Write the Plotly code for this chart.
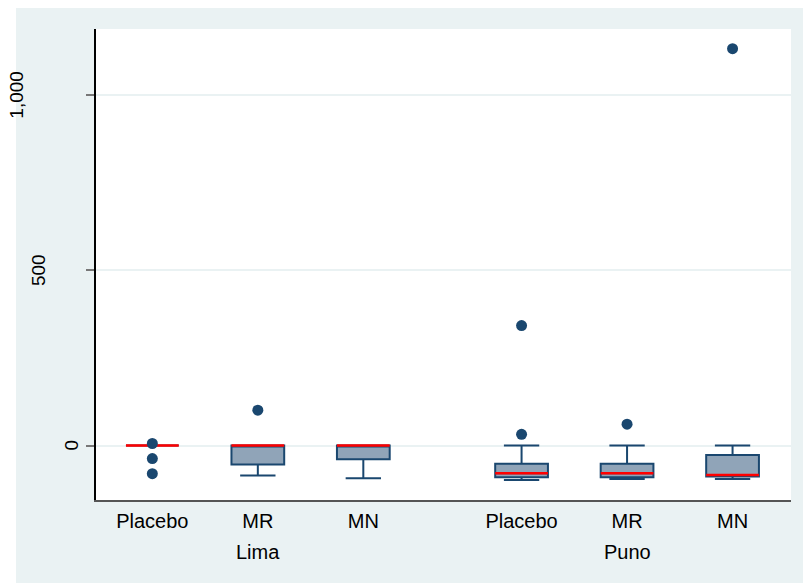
import plotly.graph_objects as go

# Treatment arms within each study site
sites = ["Lima", "Lima", "Lima", "Puno", "Puno", "Puno"]
arms = ["Placebo", "MR", "MN", "Placebo", "MR", "MN"]

# Box summaries per arm
lower_fence = [0, -85, -93, -98, -95, -95]
q1 = [0, -54, -39, -90, -90, -88]
median = [0, 0, 0, -79, -79, -84]
q3 = [0, 0, 0, -52, -52, -27]
upper_fence = [0, 0, 0, 0, 0, 0]

# Outside values per arm
outliers = [
    [6, -37, -80],
    [101],
    [],
    [32, 342],
    [61],
    [1131],
]

# Y-axis tick labels
y_ticks = [0, 500, 1000]
y_tick_text = ["0", "500", "1,000"]

NAVY = "#1a476f"
FILL = "#90a4b8"
FONT = "Liberation Sans, Arial, sans-serif"

# x positions: arms one unit apart, extra half unit between sites
site_order = list(dict.fromkeys(sites))
pos = [i + 0.5 * site_order.index(s) + 1 for i, s in enumerate(sites)]

fig = go.Figure()

fig.add_trace(go.Box(
    x=pos, q1=q1, median=median, q3=q3,
    lowerfence=lower_fence, upperfence=upper_fence,
    width=0.5, whiskerwidth=0.67,
    fillcolor=FILL, line=dict(color=NAVY, width=2),
    boxpoints=False, hoverinfo="skip", showlegend=False,
))

# red median bars
mx, my = [], []
for p, m in zip(pos, median):
    mx += [p - 0.25, p + 0.25, None]
    my += [m, m, None]
fig.add_trace(go.Scatter(x=mx, y=my, mode="lines",
                         line=dict(color="#ff0000", width=2.5),
                         hoverinfo="skip", showlegend=False))

# outside values
ox, oy = [], []
for p, vals in zip(pos, outliers):
    ox += [p] * len(vals)
    oy += vals
fig.add_trace(go.Scatter(x=ox, y=oy, mode="markers",
                         marker=dict(color=NAVY, size=11),
                         hoverinfo="skip", showlegend=False))

W, H = 803, 583
ml, mr, mt, mb = 96, 12, 29, 83
pw, ph = W - ml - mr, H - mt - mb

def px_x(px):
    return (px - ml) / pw

def px_y(py):
    return (H - mb - py) / ph

shapes = [
    # white margins at the left and top edges of the page
    dict(type="rect", xref="paper", yref="paper", x0=px_x(0), x1=px_x(16),
         y0=px_y(H), y1=px_y(0), fillcolor="white", line_width=0, layer="below"),
    dict(type="rect", xref="paper", yref="paper", x0=px_x(0), x1=px_x(W),
         y0=px_y(8), y1=px_y(0), fillcolor="white", line_width=0, layer="below"),
]

annotations = []
# rotated y tick labels
label_centers = [72, 38, 17]
for v, t, cx in zip(y_ticks, y_tick_text, label_centers):
    annotations.append(dict(x=px_x(cx), y=v, xref="paper", yref="y", text=t,
                            textangle=-90, showarrow=False, xanchor="center",
                            yanchor="middle", font=dict(size=19, color="black", family=FONT)))
# site labels below arm labels
for s in site_order:
    ps = [p for p, ss in zip(pos, sites) if ss == s]
    annotations.append(dict(x=sum(ps) / len(ps), y=px_y(552), xref="x", yref="paper",
                            text=s, showarrow=False, xanchor="center", yanchor="middle",
                            font=dict(size=20, color="black", family=FONT)))

fig.update_layout(
    width=W, height=H,
    margin=dict(l=ml, r=mr, t=mt, b=mb),
    paper_bgcolor="#eaf2f3",
    plot_bgcolor="white",
    boxmode="overlay",
    shapes=shapes,
    annotations=annotations,
    font=dict(family=FONT, color="black"),
    xaxis=dict(
        range=[0.466, 7.054], tickvals=pos, ticktext=arms,
        showgrid=False, zeroline=False, ticks="", ticklabelstandoff=2,
        showline=True, linecolor="#555555", linewidth=1.5,
        tickfont=dict(size=20, family=FONT, color="black"),
    ),
    yaxis=dict(
        range=[-155, 1187], tickvals=y_ticks, showticklabels=False,
        ticks="outside", ticklen=8, tickwidth=1.5, tickcolor="#777777",
        showgrid=True, gridcolor="#eaf2f3", gridwidth=1.5, zeroline=False,
        showline=True, linecolor="black", linewidth=1.5,
    ),
)

fig.write_html("out.html")
